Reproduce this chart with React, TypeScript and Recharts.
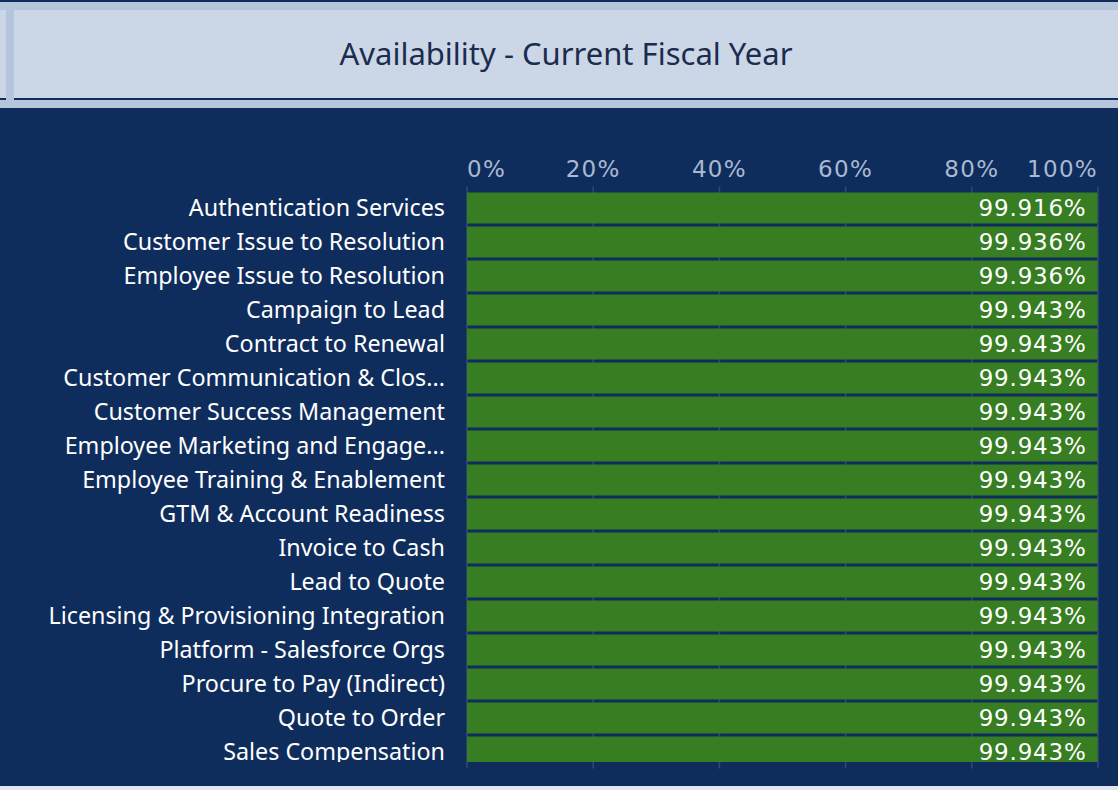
import React from 'react';
import { BarChart, Bar, XAxis, YAxis, CartesianGrid, LabelList } from 'recharts';

const chartTitle = 'Availability - Current Fiscal Year';

const categories = [
  'Authentication Services',
  'Customer Issue to Resolution',
  'Employee Issue to Resolution',
  'Campaign to Lead',
  'Contract to Renewal',
  'Customer Communication & Clos...',
  'Customer Success Management',
  'Employee Marketing and Engage...',
  'Employee Training & Enablement',
  'GTM & Account Readiness',
  'Invoice to Cash',
  'Lead to Quote',
  'Licensing & Provisioning Integration',
  'Platform - Salesforce Orgs',
  'Procure to Pay (Indirect)',
  'Quote to Order',
  'Sales Compensation',
];

const availability = [
  99.916, 99.936, 99.936, 99.943, 99.943, 99.943, 99.943, 99.943, 99.943,
  99.943, 99.943, 99.943, 99.943, 99.943, 99.943, 99.943, 99.943,
];

const xTicks = [0, 20, 40, 60, 80, 100];

const data = categories.map((name, i) => ({ name, value: availability[i] }));

const NAVY = '#0f2d5c';
const GRID = '#2f4b77';
const GREEN = '#377d22';
const TICK_COLOR = '#a9b9d1';
const NUM_FONT = '"DejaVu Sans", sans-serif';
const LABEL_FONT = '"Noto Sans", sans-serif';

const W = 1118;
const CH = 678;
const MARGIN = { top: 0, right: 20, bottom: 17.5, left: 0 };
const XAXIS_H = 82.5;
const YAXIS_W = 467;

const XTick = (props: any) => {
  const { x, y, payload, index } = props;
  const last = xTicks.length - 1;
  const anchor = index === 0 ? 'start' : index === last ? 'end' : 'middle';
  return (
    <text
      x={x}
      y={y}
      textAnchor={anchor}
      fill={TICK_COLOR}
      fontSize={23}
      fontFamily={NUM_FONT}
      letterSpacing={1.3}
    >
      {`${payload.value}%`}
    </text>
  );
};

const YTick = (props: any) => {
  const { x, y, payload } = props;
  return (
    <text
      x={x}
      y={y}
      dy="0.35em"
      textAnchor="end"
      fill="#ffffff"
      fontSize={23.3}
      fontFamily={LABEL_FONT}
    >
      {payload.value}
    </text>
  );
};

const ValueLabel = (props: any) => {
  const { x, y, width, height, value } = props;
  return (
    <text
      x={x + width - 11}
      y={y + height / 2}
      dy="0.365em"
      textAnchor="end"
      fill="#ffffff"
      fontSize={23}
      fontFamily={NUM_FONT}
      letterSpacing={0.8}
    >
      {`${Number(value).toFixed(3)}%`}
    </text>
  );
};

const EmptyTick = () => <g />;

export default function App() {
  return (
    <div
      style={{
        position: 'absolute',
        left: 0,
        top: 0,
        width: W,
        height: 790,
        background: '#e1e7ef',
        overflow: 'hidden',
      }}
    >
      {/* header */}
      <div style={{ position: 'absolute', left: 0, top: 0, width: W, height: 2, background: NAVY }} />
      <div style={{ position: 'absolute', left: 0, top: 2, width: W, height: 8, background: '#b4c5dc' }} />
      <div style={{ position: 'absolute', left: 0, top: 10, width: W, height: 88, background: '#cbd7e6' }} />
      <div style={{ position: 'absolute', left: 0, top: 98, width: W, height: 2, background: NAVY }} />
      <div style={{ position: 'absolute', left: 0, top: 100, width: W, height: 8, background: '#b4c5dc' }} />
      <div style={{ position: 'absolute', left: 6, top: 2, width: 8, height: 106, background: '#b4c5dc' }} />
      <div
        style={{
          position: 'absolute',
          left: 14,
          top: 10,
          width: W - 14,
          height: 86,
          display: 'flex',
          alignItems: 'center',
          justifyContent: 'center',
          fontFamily: LABEL_FONT,
          fontSize: 31,
          color: '#1b2c4e',
        }}
      >
        {chartTitle}
      </div>

      {/* chart body */}
      <div style={{ position: 'absolute', left: 0, top: 108, width: W, height: CH, background: NAVY }}>
        {/* grid layer */}
        <div style={{ position: 'absolute', left: 0, top: 0 }}>
          <BarChart width={W} height={CH} data={data} layout="vertical" margin={MARGIN}>
            <CartesianGrid horizontal={false} vertical stroke={GRID} strokeWidth={1.5} />
            <XAxis
              type="number"
              orientation="top"
              domain={[0, 100]}
              ticks={xTicks}
              height={XAXIS_H}
              axisLine={false}
              tickLine={{ stroke: GRID, strokeWidth: 1.5 }}
              tickSize={4}
              tick={EmptyTick}
            />
            <YAxis
              type="category"
              dataKey="name"
              width={YAXIS_W}
              axisLine={false}
              tickLine={false}
              tick={false}
            />
            <Bar dataKey="value" fill="none" isAnimationActive={false} barSize={31} />
          </BarChart>
        </div>
        {/* bars layer, clipped like a scroll viewport */}
        <div style={{ position: 'absolute', left: 0, top: 0, width: W, height: 654, overflow: 'hidden' }}>
          <BarChart width={W} height={CH} data={data} layout="vertical" margin={MARGIN}>
            <XAxis
              type="number"
              orientation="top"
              domain={[0, 100]}
              ticks={xTicks}
              height={XAXIS_H}
              axisLine={false}
              tickLine={false}
              tickSize={4}
              tickMargin={10}
              tick={XTick}
            />
            <YAxis
              type="category"
              dataKey="name"
              width={YAXIS_W}
              axisLine={false}
              tickLine={false}
              tickSize={0}
              tickMargin={22}
              tick={YTick}
              interval={0}
            />
            <Bar dataKey="value" fill={GREEN} isAnimationActive={false} barSize={31}>
              <LabelList dataKey="value" content={ValueLabel} />
            </Bar>
          </BarChart>
        </div>
      </div>
    </div>
  );
}
